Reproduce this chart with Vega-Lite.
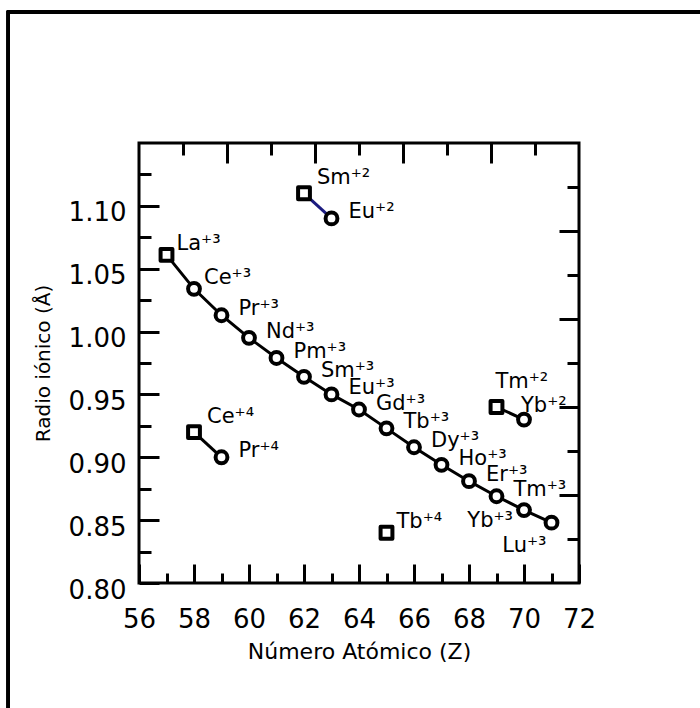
{
  "$schema": "https://vega.github.io/schema/vega-lite/v6.json",
  "width": 440,
  "height": 440,
  "autosize": "none",
  "padding": {"left": 139, "top": 143, "right": 121, "bottom": 125},
  "background": "white",
  "config": {
    "view": {"stroke": "black", "strokeWidth": 3},
    "font": "DejaVu Sans",
    "axis": {"grid": false, "domain": false, "tickColor": "black", "tickWidth": 3, "labelColor": "black", "titleColor": "black", "labelFont": "DejaVu Sans", "titleFont": "DejaVu Sans", "titleFontWeight": "normal"}
  },
  "datasets": {
    "ions": [
      {"label": "La⁺³", "Z": 57, "r": 1.061, "series": "Ln3", "idx": 1, "pos": "ne"},
      {"label": "Ce⁺³", "Z": 58, "r": 1.034, "series": "Ln3", "idx": 2, "pos": "ne"},
      {"label": "Pr⁺³", "Z": 59, "r": 1.013, "series": "Ln3", "idx": 3, "pos": "e"},
      {"label": "Nd⁺³", "Z": 60, "r": 0.995, "series": "Ln3", "idx": 4, "pos": "e"},
      {"label": "Pm⁺³", "Z": 61, "r": 0.979, "series": "Ln3", "idx": 5, "pos": "e"},
      {"label": "Sm⁺³", "Z": 62, "r": 0.964, "series": "Ln3", "idx": 6, "pos": "e"},
      {"label": "Eu⁺³", "Z": 63, "r": 0.950, "series": "Ln3", "idx": 7, "pos": "e"},
      {"label": "Gd⁺³", "Z": 64, "r": 0.938, "series": "Ln3", "idx": 8, "pos": "e"},
      {"label": "Tb⁺³", "Z": 65, "r": 0.923, "series": "Ln3", "idx": 9, "pos": "e"},
      {"label": "Dy⁺³", "Z": 66, "r": 0.908, "series": "Ln3", "idx": 10, "pos": "e"},
      {"label": "Ho⁺³", "Z": 67, "r": 0.894, "series": "Ln3", "idx": 11, "pos": "e"},
      {"label": "Er⁺³", "Z": 68, "r": 0.881, "series": "Ln3", "idx": 12, "pos": "e"},
      {"label": "Tm⁺³", "Z": 69, "r": 0.869, "series": "Ln3", "idx": 13, "pos": "e"},
      {"label": "Yb⁺³", "Z": 70, "r": 0.858, "series": "Ln3", "idx": 14, "pos": "sw"},
      {"label": "Lu⁺³", "Z": 71, "r": 0.848, "series": "Ln3", "idx": 15, "pos": "s"},
      {"label": "Sm⁺²", "Z": 62, "r": 1.110, "series": "SmEu2", "idx": 1, "pos": "ne2"},
      {"label": "Eu⁺²", "Z": 63, "r": 1.090, "series": "SmEu2", "idx": 2, "pos": "e"},
      {"label": "Ce⁺⁴", "Z": 58, "r": 0.920, "series": "CePr4", "idx": 1, "pos": "ne2"},
      {"label": "Pr⁺⁴", "Z": 59, "r": 0.900, "series": "CePr4", "idx": 2, "pos": "e"},
      {"label": "Tm⁺²", "Z": 69, "r": 0.940, "series": "TmYb2", "idx": 1, "pos": "n"},
      {"label": "Yb⁺²", "Z": 70, "r": 0.930, "series": "TmYb2", "idx": 2, "pos": "n2"},
      {"label": "Tb⁺⁴", "Z": 65, "r": 0.840, "series": "Tb4", "idx": 1, "pos": "ne"}
    ]
  },
  "layer": [
    {
      "data": {"name": "ions"},
      "encoding": {
        "x": {
          "field": "Z", "type": "quantitative",
          "scale": {"domain": [56, 72], "nice": false, "zero": false},
          "axis": {
            "orient": "bottom",
            "values": [56, 57, 58, 59, 60, 61, 62, 63, 64, 65, 66, 67, 68, 69, 70, 71, 72],
            "labelExpr": "datum.value % 2 === 0 ? datum.label : ''",
            "tickSize": {"condition": {"test": "datum.value % 2 === 0", "value": -19}, "value": -10},
            "labelFontSize": 26,
            "labelPadding": 42,
            "labelFlush": false,
            "labelOverlap": false,
            "title": "Número Atómico (Z)",
            "titleFontSize": 22,
            "titlePadding": 0
          }
        },
        "y": {
          "field": "r", "type": "quantitative",
          "scale": {"domain": [0.8, 1.15], "nice": false, "zero": false},
          "axis": {
            "orient": "left",
            "values": [0.8, 0.825, 0.85, 0.875, 0.9, 0.925, 0.95, 0.975, 1.0, 1.025, 1.05, 1.075, 1.1, 1.125],
            "format": ".2f",
            "labelExpr": "round(datum.value * 40) % 2 === 0 ? datum.label : ''",
            "tickSize": {"condition": {"test": "round(datum.value * 40) % 2 === 0", "value": -20}, "value": -12},
            "labelFontSize": 26,
            "labelPadding": 33,
            "labelOffset": 7,
            "labelFlush": false,
            "labelOverlap": false,
            "title": "Radio iónico (Å)",
            "titleFontSize": 20,
            "titlePadding": 15
          }
        }
      },
      "layer": [
        {
          "mark": {"type": "rect", "fillOpacity": 0, "stroke": "black", "strokeWidth": 3},
          "encoding": {
            "x": {"datum": 51.25, "type": "quantitative"},
            "x2": {"datum": 80},
            "y": {"datum": 1.254, "type": "quantitative"},
            "y2": {"datum": 0.6}
          }
        },
        {
          "mark": {"type": "line", "strokeWidth": 3},
          "encoding": {
            "detail": {"field": "series"},
            "order": {"field": "idx", "type": "quantitative"},
            "color": {
              "field": "series", "type": "nominal", "legend": null,
              "scale": {"domain": ["Ln3", "SmEu2", "CePr4", "TmYb2", "Tb4"], "range": ["black", "#1c1c80", "black", "black", "black"]}
            }
          }
        },
        {
          "mark": {"type": "point", "filled": true, "fill": "white", "stroke": "black", "strokeWidth": 4, "size": 140, "opacity": 1, "strokeJoin": "round"},
          "encoding": {
            "shape": {"condition": {"test": "datum.idx === 1", "value": "square"}, "value": "circle"}
          }
        },
        {
          "transform": [{"filter": "datum.pos === 'ne'"}],
          "mark": {"type": "text", "align": "left", "baseline": "alphabetic", "dx": 10, "dy": -5, "fontSize": 21, "color": "black"},
          "encoding": {"text": {"field": "label"}}
        },
        {
          "transform": [{"filter": "datum.pos === 'e'"}],
          "mark": {"type": "text", "align": "left", "baseline": "alphabetic", "dx": 17, "dy": 0, "fontSize": 21, "color": "black"},
          "encoding": {"text": {"field": "label"}}
        },
        {
          "transform": [{"filter": "datum.pos === 'ne2'"}],
          "mark": {"type": "text", "align": "left", "baseline": "alphabetic", "dx": 13, "dy": -9, "fontSize": 21, "color": "black"},
          "encoding": {"text": {"field": "label"}}
        },
        {
          "transform": [{"filter": "datum.pos === 'n'"}],
          "mark": {"type": "text", "align": "left", "baseline": "alphabetic", "dx": -1, "dy": -19, "fontSize": 21, "color": "black"},
          "encoding": {"text": {"field": "label"}}
        },
        {
          "transform": [{"filter": "datum.pos === 'n2'"}],
          "mark": {"type": "text", "align": "left", "baseline": "alphabetic", "dx": -3, "dy": -8, "fontSize": 21, "color": "black"},
          "encoding": {"text": {"field": "label"}}
        },
        {
          "transform": [{"filter": "datum.pos === 'sw'"}],
          "mark": {"type": "text", "align": "right", "baseline": "alphabetic", "dx": -11, "dy": 17, "fontSize": 21, "color": "black"},
          "encoding": {"text": {"field": "label"}}
        },
        {
          "transform": [{"filter": "datum.pos === 's'"}],
          "mark": {"type": "text", "align": "right", "baseline": "alphabetic", "dx": -5, "dy": 29, "fontSize": 21, "color": "black"},
          "encoding": {"text": {"field": "label"}}
        }
      ]
    },
    {
      "data": {"values": [{"t": 0}, {"t": 10}]},
      "mark": {"type": "point", "opacity": 0},
      "encoding": {
        "x": {
          "field": "t", "type": "quantitative",
          "scale": {"domain": [0, 10], "nice": false, "zero": false},
          "axis": {"orient": "top", "values": [1, 2, 3, 4, 5, 6, 7, 8, 9], "labels": false, "title": null,
            "tickSize": {"condition": {"test": "datum.value % 2 === 0", "value": -20}, "value": -12}}
        }
      }
    },
    {
      "data": {"values": [{"t": 0}, {"t": 10}]},
      "mark": {"type": "point", "opacity": 0},
      "encoding": {
        "y": {
          "field": "t", "type": "quantitative",
          "scale": {"domain": [0, 10], "nice": false, "zero": false},
          "axis": {"orient": "right", "values": [1, 2, 3, 4, 5, 6, 7, 8, 9], "labels": false, "title": null,
            "tickSize": {"condition": {"test": "datum.value % 2 === 0", "value": -20}, "value": -12}}
        }
      }
    }
  ],
  "resolve": {"scale": {"x": "independent", "y": "independent"}}
}
